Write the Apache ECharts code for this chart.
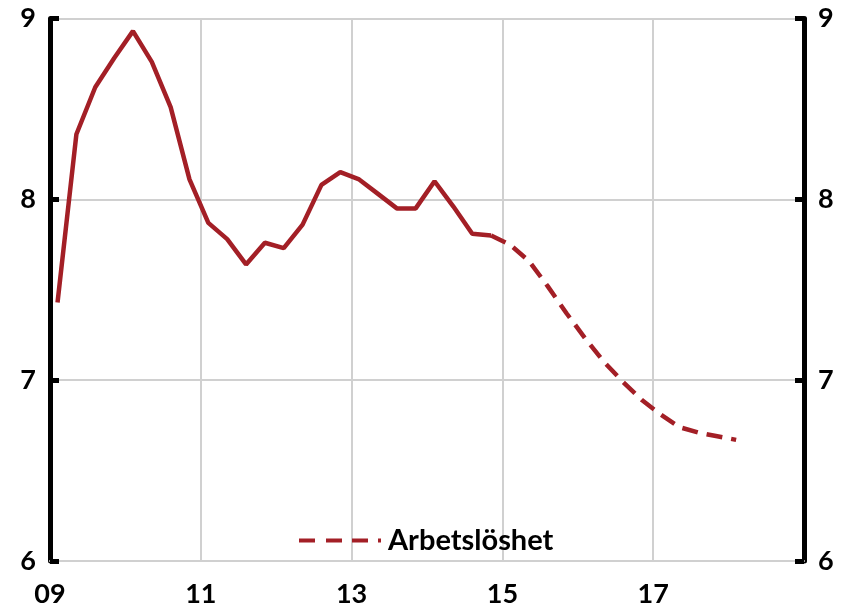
<!DOCTYPE html>
<html>
<head>
<meta charset="utf-8">
<script src="https://cdn.jsdelivr.net/npm/echarts@6/dist/echarts.min.js"></script>
<style>
html,body{margin:0;padding:0;background:#fff;}
#chart{width:844px;height:609px;}
</style>
</head>
<body>
<div id="chart"></div>
<script>
// Quarterly observations, 2009K1 .. 2018K1
const quarters = [
  '2009K1','2009K2','2009K3','2009K4',
  '2010K1','2010K2','2010K3','2010K4',
  '2011K1','2011K2','2011K3','2011K4',
  '2012K1','2012K2','2012K3','2012K4',
  '2013K1','2013K2','2013K3','2013K4',
  '2014K1','2014K2','2014K3','2014K4',
  '2015K1','2015K2','2015K3','2015K4',
  '2016K1','2016K2','2016K3','2016K4',
  '2017K1','2017K2','2017K3','2017K4',
  '2018K1'
];
// Outcome (solid), 2009K1 .. 2014K4
const outcome = [
  7.43, 8.36, 8.62, 8.78,
  8.93, 8.76, 8.51, 8.11,
  7.87, 7.78, 7.64, 7.76,
  7.73, 7.86, 8.08, 8.15,
  8.11, 8.03, 7.95, 7.95,
  8.10, 7.96, 7.81, 7.80
];
// Forecast (dashed), 2014K4 .. 2018K1
const forecast = [
  7.80, 7.75, 7.66, 7.52, 7.37, 7.23, 7.10, 6.99, 6.89, 6.81, 6.74, 6.71, 6.69, 6.67
];
const forecastStartIndex = 23;
const xTicks = [2009, 2011, 2013, 2015, 2017];
const yTicks = [6, 7, 8, 9];
const seriesName = 'Arbetslöshet';

function qToYear(q){
  const y = parseInt(q.slice(0,4),10);
  const k = parseInt(q.slice(5),10);
  return y + (k-1)/4 + 0.1;
}
const outcomeData = outcome.map((v,i)=>[qToYear(quarters[i]), v]);
const forecastData = forecast.map((v,i)=>[qToYear(quarters[forecastStartIndex+i]), v]);

const RED = '#a31f26';
const FONT = 'Lato';
const chart = echarts.init(document.getElementById('chart'), null, {renderer:'canvas'});

const yAxisCommon = {
  type:'value', min:yTicks[0], max:yTicks[yTicks.length-1], interval:1,
  axisLine:{show:true, lineStyle:{color:'#000', width:5}},
  axisTick:{show:true, inside:true, length:9, lineStyle:{color:'#000', width:5}},
  axisLabel:{color:'#000', fontFamily:FONT, fontWeight:'bold', fontSize:27, margin:14}
};

chart.setOption({
  animation:false,
  backgroundColor:'#fff',
  grid:{left:50, right:40, top:18.5, bottom:48, containLabel:false},
  legend:{
    data:[{name:seriesName,
      icon:'path://M0,0h16v4h-16z M27,0h16v4h-16z M53,0h16v4h-16z M79,0h3v4h-3z'}],
    left:294, top:521,
    itemWidth:82, itemHeight:4,
    itemStyle:{color:RED},
    textStyle:{color:'#000', fontFamily:FONT, fontWeight:'bold', fontSize:29, padding:[0,0,0,2]}
  },
  xAxis:{
    type:'value', min:2009, max:2019, interval:2,
    axisLine:{show:true, lineStyle:{color:'#d0d0d0', width:2}},
    axisTick:{show:false},
    splitLine:{show:true, lineStyle:{color:'#d0d0d0', width:2}},
    axisLabel:{
      color:'#000', fontFamily:FONT, fontWeight:'bold', fontSize:27, margin:20,
      formatter:(v)=> xTicks.includes(v) ? String(v).slice(2) : ''
    }
  },
  yAxis:[
    Object.assign({}, yAxisCommon, {position:'left',
      splitLine:{show:true, lineStyle:{color:'#d0d0d0', width:2}}}),
    Object.assign({}, yAxisCommon, {position:'right', splitLine:{show:false}})
  ],
  series:[
    {
      name:seriesName+' utfall', type:'line', data:outcomeData, yAxisIndex:0,
      symbol:'none', lineStyle:{color:RED, width:4.5}, itemStyle:{color:RED}, z:3
    },
    {
      name:seriesName, type:'line', data:forecastData, yAxisIndex:0,
      symbol:'none', lineStyle:{color:RED, width:4.5, type:[16,9]}, itemStyle:{color:RED}, z:3
    }
  ]
});
</script>
</body>
</html>
